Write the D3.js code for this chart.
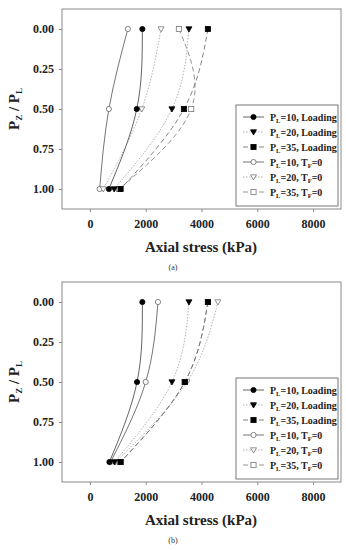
<!DOCTYPE html>
<html>
<head>
<meta charset="utf-8">
<script src="https://cdn.jsdelivr.net/npm/d3@7"></script>
<style>
  body { margin: 0; background: #fff; }
  svg text { font-family: "Liberation Serif", "Times New Roman", "DejaVu Serif", serif; }
</style>
</head>
<body>
<div id="chart"></div>
<script>
// Depth ratio Pz/PL where stresses were read
const depth = [0, 0.5, 1];

// Panel (a) axial stress (kPa)
const aLoad10 = [1880, 1680, 680];
const aLoad20 = [3550, 2940, 870];
const aLoad35 = [4230, 3370, 1100];
const aTf10 = [1360, 680, 350];
const aTf20 = [2550, 1860, 480];
const aTf35 = [3190, 3630, 1050];

// Panel (b) axial stress (kPa)
const bLoad10 = [1880, 1690, 700];
const bLoad20 = [3550, 2940, 880];
const bLoad35 = [4230, 3400, 1100];
const bTf10 = [2440, 2000, 740];
const bTf20 = [4590, 3480, 920];
const bTf35 = [4230, 3400, 1100];

const xTicks = [0, 2000, 4000, 6000, 8000];
const yTicks = [0, 0.25, 0.5, 0.75, 1.0];

// legend order + styles
const legendNames = ["10, Loading", "20, Loading", "35, Loading", "10, T", "20, T", "35, T"];
const styles = [
  {shape: "circle", fill: "#000", stroke: "#555", dash: null},
  {shape: "triangle", fill: "#000", stroke: "#aaa", dash: "1.5,1.5"},
  {shape: "square", fill: "#000", stroke: "#777", dash: "5,3"},
  {shape: "circle", fill: "#fff", stroke: "#666", dash: null},
  {shape: "triangle", fill: "#fff", stroke: "#aaa", dash: "1.5,1.5"},
  {shape: "square", fill: "#fff", stroke: "#888", dash: "5,3"}
];

const serif = '"Liberation Serif", "Times New Roman", serif';
const W = 346, H = 550;
const svg = d3.select("#chart").append("svg").attr("width", W).attr("height", H);

function marker(g, shape, x, y, st) {
  if (shape == "circle") {
    g.append("circle").attr("cx", x).attr("cy", y).attr("r", 2.6)
      .attr("fill", st.fill).attr("stroke", st.fill == "#000" ? "#000" : "#666").attr("stroke-width", 0.8);
  } else if (shape == "triangle") {
    g.append("path").attr("d", `M${x - 3},${y - 2.2}L${x + 3},${y - 2.2}L${x},${y + 3}Z`)
      .attr("fill", st.fill).attr("stroke", st.fill == "#000" ? "#000" : "#777").attr("stroke-width", 0.8);
  } else {
    g.append("rect").attr("x", x - 2.6).attr("y", y - 2.6).attr("width", 5.2).attr("height", 5.2)
      .attr("fill", st.fill).attr("stroke", st.fill == "#000" ? "#000" : "#777").attr("stroke-width", 0.8);
  }
}

function drawPanel(top, series, tag) {
  const x = d3.scaleLinear().domain([-1000, 9000]).range([62, 341]);
  const y = d3.scaleLinear().domain([-0.125, 1.125]).range([top, top + 200]);
  const g = svg.append("g");

  // frame
  g.append("rect").attr("x", 62).attr("y", top).attr("width", 279).attr("height", 200)
    .attr("fill", "none").attr("stroke", "#8a8a8a").attr("stroke-width", 1);

  // axes
  const xa = g.append("g").attr("transform", `translate(0,${top + 200})`)
    .call(d3.axisBottom(x).tickValues(xTicks).tickSize(3).tickPadding(7).tickFormat(d3.format("d")));
  const ya = g.append("g").attr("transform", "translate(62,0)")
    .call(d3.axisLeft(y).tickValues(yTicks).tickSize(3).tickPadding(5).tickFormat(d3.format(".2f")));
  [xa, ya].forEach(a => {
    a.attr("font-family", serif);
    a.select(".domain").remove();
    a.selectAll(".tick line").attr("stroke", "#8a8a8a");
    a.selectAll(".tick text").style("font-family", serif).attr("font-weight", "bold")
      .attr("font-size", 12).attr("fill", "#222");
  });

  // lines: T_F=0 first, loading drawn over
  const line = d3.line().x(d => x(d[0])).y(d => y(d[1])).curve(d3.curveNatural);
  const order = [3, 4, 5, 0, 1, 2];
  order.forEach(i => {
    const pts = series[i].map((v, k) => [v, depth[k]]);
    g.append("path").attr("d", line(pts)).attr("fill", "none")
      .attr("stroke", styles[i].stroke).attr("stroke-width", 0.9)
      .attr("stroke-dasharray", styles[i].dash);
  });
  order.forEach(i => {
    series[i].forEach((v, k) => marker(g, styles[i].shape, x(v), y(depth[k]), styles[i]));
  });

  // legend
  const lg = g.append("g");
  lg.append("rect").attr("x", 236).attr("y", top + 96).attr("width", 102).attr("height", 101)
    .attr("fill", "#fff").attr("stroke", "#777").attr("stroke-width", 1);
  legendNames.forEach((name, i) => {
    const ly = top + 108 + i * 15;
    lg.append("line").attr("x1", 243).attr("x2", 264).attr("y1", ly).attr("y2", ly)
      .attr("stroke", styles[i].stroke).attr("stroke-width", 0.9).attr("stroke-dasharray", styles[i].dash);
    marker(lg, styles[i].shape, 253.5, ly, styles[i]);
    const t = lg.append("text").attr("x", 270).attr("y", ly + 3.5).style("font-family", serif)
      .attr("font-size", 10).attr("font-weight", "bold").attr("fill", "#222");
    t.append("tspan").text("P");
    t.append("tspan").attr("font-size", 6.5).attr("dy", 2).text("L");
    const parts = name.split(", ");
    if (parts[1] == "T") {
      t.append("tspan").attr("dy", -2).text("=" + parts[0] + ", T");
      t.append("tspan").attr("font-size", 6.5).attr("dy", 2).text("F");
      t.append("tspan").attr("dy", -2).text("=0");
    } else {
      t.append("tspan").attr("dy", -2).text("=" + parts[0] + ", " + parts[1]);
    }
  });

  // axis titles
  g.append("text").attr("x", 201).attr("y", top + 243).attr("text-anchor", "middle").style("font-family", serif)
    .attr("font-size", 15).attr("font-weight", "bold").attr("fill", "#222").text("Axial stress (kPa)");
  const yl = g.append("text").attr("transform", `translate(19,${top + 100}) rotate(-90)`).style("font-family", serif)
    .attr("text-anchor", "middle").attr("font-size", 15).attr("font-weight", "bold").attr("fill", "#222");
  yl.append("tspan").text("P");
  yl.append("tspan").attr("font-size", 9).attr("dy", 3).text("Z");
  yl.append("tspan").attr("dy", -3).text(" / P");
  yl.append("tspan").attr("font-size", 9).attr("dy", 3).text("L");

  g.append("text").attr("x", 173).attr("y", top + 261).attr("text-anchor", "middle").style("font-family", serif)
    .attr("font-size", 8).attr("fill", "#333").text(tag);
}

drawPanel(9, [aLoad10, aLoad20, aLoad35, aTf10, aTf20, aTf35], "(a)");
drawPanel(282, [bLoad10, bLoad20, bLoad35, bTf10, bTf20, bTf35], "(b)");
</script>
</body>
</html>
